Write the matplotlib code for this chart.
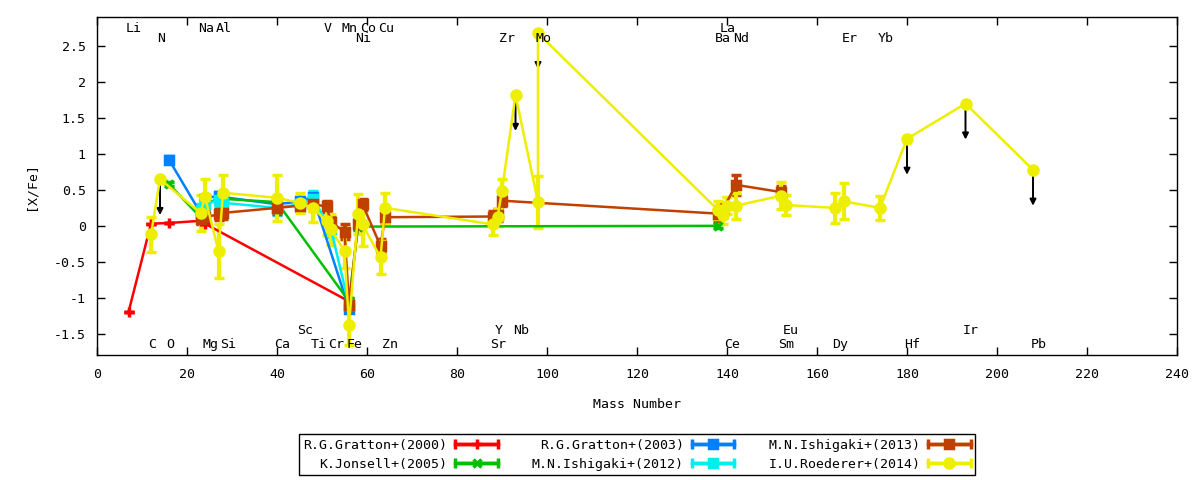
import numpy as np
import matplotlib
matplotlib.use("Agg")
import matplotlib.pyplot as plt
from matplotlib.container import ErrorbarContainer
from matplotlib.legend_handler import HandlerErrorbar
from matplotlib.ticker import MultipleLocator, FuncFormatter

plt.rcParams['font.family'] = ['DejaVu Sans Mono', 'DejaVu Sans']
plt.rcParams['font.size'] = 9.5
plt.rcParams['axes.unicode_minus'] = False

# element labels (name, mass number), four rows
row1_names = ["Li", "Na", "Al", "V", "Mn", "Co", "Cu", "La"]
row1_mass = [7, 23, 27, 51, 55, 59, 63, 139]
row2_names = ["N", "Ni", "Zr", "Mo", "Ba", "Nd", "Er", "Yb"]
row2_mass = [14, 58, 90, 98, 138, 142, 166, 174]
row3_names = ["Sc", "Y", "Nb", "Eu", "Ir"]
row3_mass = [45, 89, 93, 153, 193]
row4_names = ["C", "O", "Mg", "Si", "Ca", "Ti", "Cr", "Fe", "Zn", "Sr", "Ce", "Sm", "Dy", "Hf", "Pb"]
row4_mass = [12, 16, 24, 28, 40, 48, 52, 56, 64, 88, 140, 152, 164, 180, 208]

# R.G.Gratton+(2000)
gratton2000_A = [7, 12, 16, 23, 24, 56]
gratton2000_X = [-1.2, 0.03, 0.04, 0.07, 0.03, -1.05]
gratton2000_err = [0, 0, 0, 0, 0, 0]

# R.G.Gratton+(2003)
gratton2003_A = [16, 23, 24, 27, 28, 40, 45, 48, 56]
gratton2003_X = [0.92, 0.18, 0.38, 0.42, 0.4, 0.3, 0.34, 0.4, -1.15]
gratton2003_err = [0.05, 0.05, 0.05, 0.05, 0.05, 0.05, 0.05, 0.05, 0.05]

# K.Jonsell+(2005)
jonsell2005_A = [16, 23, 24, 27, 40, 56, 58, 138]
jonsell2005_X = [0.58, 0.12, 0.3, 0.38, 0.33, -1.05, -0.01, 0.0]
jonsell2005_err = [0.03, 0.03, 0.03, 0.03, 0.03, 0.03, 0.03, 0.03]

# M.N.Ishigaki+(2012)
ishigaki2012_A = [23, 24, 27, 28, 40, 45, 48, 52, 56]
ishigaki2012_X = [0.22, 0.3, 0.36, 0.32, 0.25, 0.3, 0.38, -0.05, -1.1]
ishigaki2012_err = [0.08, 0.08, 0.1, 0.17, 0.1, 0.08, 0.1, 0.1, 0.1]

# M.N.Ishigaki+(2013)
ishigaki2013_A = [23, 24, 27, 28, 40, 45, 48, 51, 52, 55, 56, 58, 59, 63, 64,
                  88, 89, 90, 138, 139, 142, 152]
ishigaki2013_X = [0.1, 0.12, 0.16, 0.18, 0.25, 0.28, 0.3, 0.27, 0.05, -0.08, -1.1, 0.02, 0.3, -0.28, 0.12,
                  0.13, 0.15, 0.35, 0.17, 0.22, 0.57, 0.47]
ishigaki2013_err = [0.08, 0.08, 0.08, 0.08, 0.08, 0.08, 0.08, 0.08, 0.08, 0.1, 0.1, 0.08, 0.08, 0.1, 0.08,
                    0.08, 0.08, 0.08, 0.1, 0.1, 0.14, 0.08]

# I.U.Roederer+(2014), ul = 1 marks upper limits
roederer2014_A = [12, 14, 23, 24, 27, 28, 40, 45, 48, 51, 52, 55, 56, 58, 59, 63, 64,
                  88, 89, 90, 93, 98, 98, 138, 139, 140, 142, 152, 153, 164, 166, 174,
                  180, 193, 208]
roederer2014_X = [-0.12, 0.65, 0.18, 0.4, -0.35, 0.46, 0.39, 0.32, 0.25, 0.07, -0.05, -0.35, -1.38,
                  0.16, 0.02, -0.44, 0.25, 0.02, 0.12, 0.49, 1.82, 0.33, 2.68, 0.22, 0.15, 0.28,
                  0.28, 0.42, 0.29, 0.25, 0.34, 0.25, 1.21, 1.7, 0.78]
roederer2014_err = [0.25, 0, 0.25, 0.25, 0.37, 0.25, 0.32, 0.14, 0.2, 0.2, 0.22, 0.23, 0.27,
                    0.28, 0.3, 0.23, 0.21, 0.15, 0.12, 0.16, 0, 0.36, 0, 0.13, 0.12, 0.12,
                    0.18, 0.19, 0.14, 0.21, 0.25, 0.17, 0, 0, 0]
roederer2014_ul = [0, 1, 0, 0, 0, 0, 0, 0, 0, 0, 0, 0, 0, 0, 0, 0, 0, 0, 0, 0, 1, 0, 1,
                   0, 0, 0, 0, 0, 0, 0, 0, 0, 1, 1, 1]

series = [
    ("R.G.Gratton+(2000)", gratton2000_A, gratton2000_X, gratton2000_err, "#ff0000", "+"),
    ("R.G.Gratton+(2003)", gratton2003_A, gratton2003_X, gratton2003_err, "#0080ff", "s"),
    ("K.Jonsell+(2005)", jonsell2005_A, jonsell2005_X, jonsell2005_err, "#00c000", "x"),
    ("M.N.Ishigaki+(2012)", ishigaki2012_A, ishigaki2012_X, ishigaki2012_err, "#00eeee", "s"),
    ("M.N.Ishigaki+(2013)", ishigaki2013_A, ishigaki2013_X, ishigaki2013_err, "#c04000", "s"),
    ("I.U.Roederer+(2014)", roederer2014_A, roederer2014_X, roederer2014_err, "#eeee00", "o"),
]
legend_order = [0, 2, 1, 3, 4, 5]
marker_size = {"o": 6.5, "s": 6, "+": 7, "x": 5.5}

fig = plt.figure(figsize=(12, 4.8), dpi=100)
ax = fig.add_axes([97 / 1200, 124.7 / 480, 1080 / 1200, 338 / 480])

proxies = []
for label, A, X, err, color, mk in series:
    ms = marker_size[mk]
    ax.errorbar(A, X, yerr=err, fmt="-" + mk, color=color, lw=1.8, ms=ms, mew=2.5,
                elinewidth=3, capsize=3.5, capthick=2.5)
    p = ax.errorbar([np.nan], [np.nan], xerr=[1], fmt="-" + mk, color=color, lw=2.5,
                    ms=ms, mew=2.5, elinewidth=2.5, capsize=3.5, capthick=2.5, label=label)
    proxies.append(p)

# upper limit arrows
for a, x, ul in zip(roederer2014_A, roederer2014_X, roederer2014_ul):
    if ul:
        ax.annotate("", xy=(a, x - 0.5), xytext=(a, x),
                    arrowprops=dict(arrowstyle="-|>", color="black", lw=1.4,
                                    mutation_scale=9, shrinkA=0, shrinkB=0),
                    zorder=1.5)

for names, masses, y in [(row1_names, row1_mass, 2.75), (row2_names, row2_mass, 2.61),
                         (row3_names, row3_mass, -1.46), (row4_names, row4_mass, -1.65)]:
    for n, a in zip(names, masses):
        ax.text(a - 0.6, y, n, ha="left", va="center", fontsize=9.5)

ax.set_xlim(0, 240)
ax.set_ylim(-1.8, 2.9)
ax.xaxis.set_major_locator(MultipleLocator(20))
ax.yaxis.set_major_locator(MultipleLocator(0.5))
ax.yaxis.set_major_formatter(FuncFormatter(lambda v, p: "%g" % v))
ax.tick_params(direction="in", length=6, width=1, top=True, right=True)
ax.tick_params(axis="x", pad=9)
ax.tick_params(axis="y", pad=8)
for s in ax.spines.values():
    s.set_linewidth(1)

ax.set_xlabel("Mass Number")
ax.set_ylabel("[X/Fe]")
ax.xaxis.set_label_coords(0.5, -0.125)
ax.yaxis.set_label_coords(-0.055, 0.5)

hm = {ErrorbarContainer: HandlerErrorbar(xerr_size=1.6)}
leg = fig.legend([proxies[i] for i in legend_order],
                 [series[i][0] for i in legend_order],
                 loc="center", bbox_to_anchor=(637 / 1200, 0.053), ncol=3,
                 markerfirst=False, numpoints=1, handlelength=3.2, handletextpad=0.6,
                 columnspacing=2.6, labelspacing=0.45, borderpad=0.35,
                 fancybox=False, edgecolor="black", framealpha=1, handler_map=hm)
leg.get_frame().set_linewidth(1)

fig.savefig("out.png", dpi=100)
